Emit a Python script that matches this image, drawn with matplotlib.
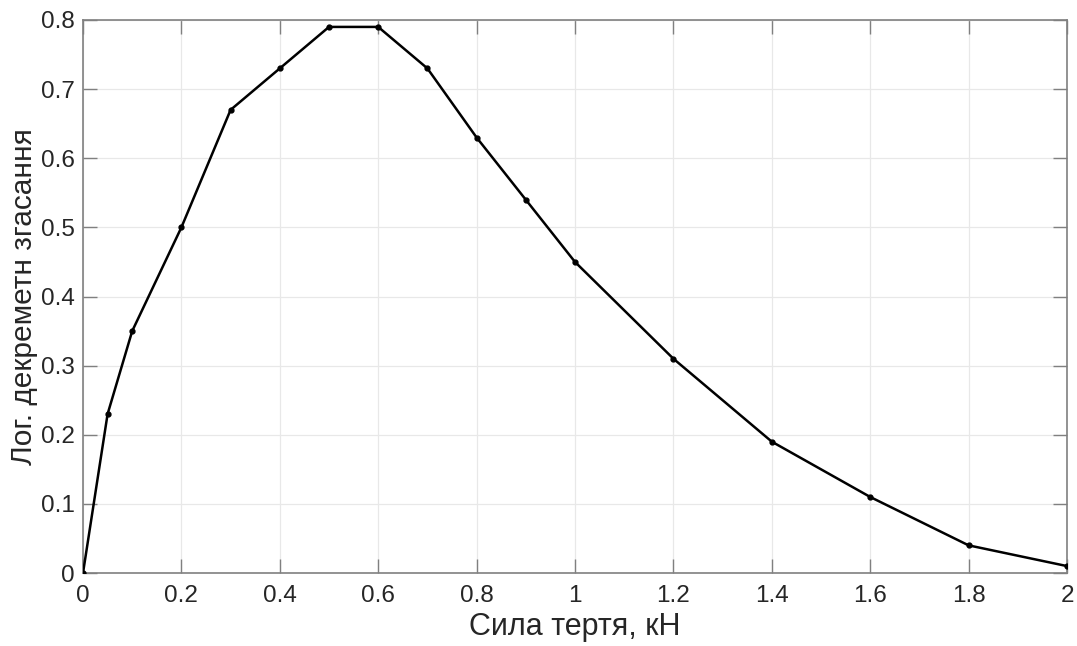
import matplotlib
matplotlib.use("Agg")
import matplotlib.pyplot as plt

force = [0, 0.05, 0.1, 0.2, 0.3, 0.4, 0.5, 0.6, 0.7, 0.8, 0.9, 1.0, 1.2, 1.4, 1.6, 1.8, 2.0]
decrement = [0, 0.23, 0.35, 0.50, 0.67, 0.73, 0.79, 0.79, 0.73, 0.63, 0.54, 0.45, 0.31, 0.19, 0.11, 0.04, 0.01]
xticks = [0, 0.2, 0.4, 0.6, 0.8, 1.0, 1.2, 1.4, 1.6, 1.8, 2.0]
xticklabels = ["0", "0.2", "0.4", "0.6", "0.8", "1", "1.2", "1.4", "1.6", "1.8", "2"]
yticks = [0, 0.1, 0.2, 0.3, 0.4, 0.5, 0.6, 0.7, 0.8]
yticklabels = ["0", "0.1", "0.2", "0.3", "0.4", "0.5", "0.6", "0.7", "0.8"]

plt.rcParams['font.family'] = ['Liberation Sans', 'DejaVu Sans']

fig = plt.figure(figsize=(10.77, 6.46), dpi=100)
ax = fig.add_axes([83/1077, (646-573)/646, (1067-83)/1077, (573-20)/646])

ax.plot(force, decrement, color='black', linewidth=1.8, marker='o', markersize=3.5, zorder=3)

ax.set_xlim(0, 2)
ax.set_ylim(0, 0.8)
ax.set_xticks(xticks)
ax.set_xticklabels(xticklabels)
ax.set_yticks(yticks)
ax.set_yticklabels(yticklabels)
ax.grid(True, color='#e8e8e8', linewidth=0.9)
ax.set_axisbelow(True)
ax.tick_params(direction='in', top=True, right=True, length=10, width=1.0, color='#808080',
               labelsize=17.5, labelcolor='#262626')
ax.tick_params(axis='x', pad=9)
ax.tick_params(axis='y', pad=6)
for s in ax.spines.values():
    s.set_color('#808080')
    s.set_linewidth(1.2)

ax.set_xlabel('Сила тертя, кН', fontsize=22, color='#262626', labelpad=3)
ax.set_ylabel('Лог. декреметн згасання', fontsize=21.5, color='#262626')
ax.yaxis.set_label_coords(-0.046, 0.5)

fig.savefig('out.png', dpi=100)
